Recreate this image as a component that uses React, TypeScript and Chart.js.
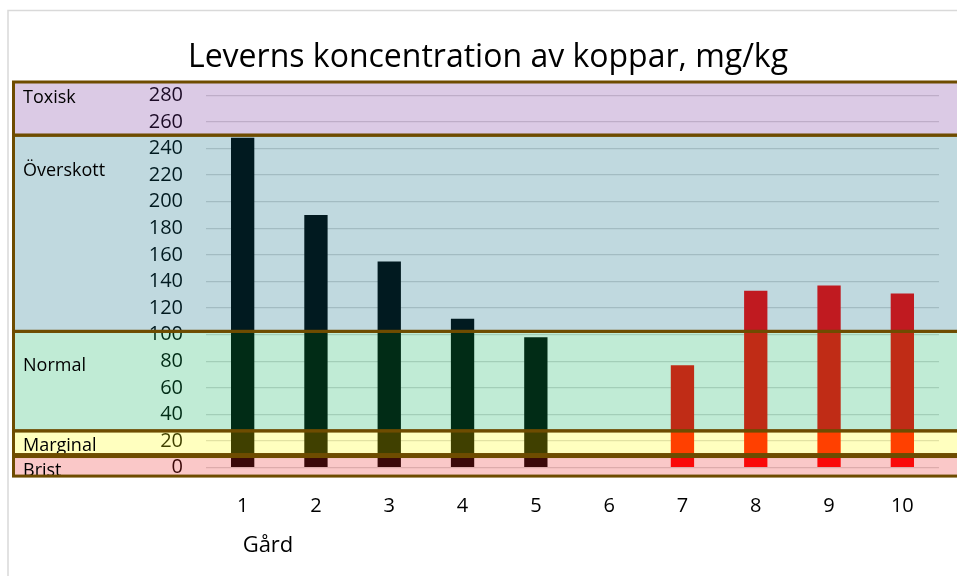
import { useEffect, useRef } from "react";
import { Chart, registerables } from "chart.js";

Chart.register(...registerables);

// ---- data ----
const categories = ["1", "2", "3", "4", "5", "6", "7", "8", "9", "10"];
const seriesDark = [248, 190, 155, 112, 98, null, null, null, null, null];
const seriesRed = [null, null, null, null, null, null, 77, 133, 137, 131];
const yMin = 0;
const yMax = 280;
const yStep = 20;
const bandNames = ["Toxisk", "Överskott", "Normal", "Marginal", "Brist"];
const bandTop = [290, 250, 102.5, 27.7, 8.4];
const bandBottom = [250, 102.5, 27.7, 9.9, -6.3];
const titleText = "Leverns koncentration av koppar, mg/kg";
const xTitleText = "Gård";

// ---- styles ----
const bandColors = [
  "rgba(111,43,151,0.25)",
  "rgba(4,104,128,0.25)",
  "rgba(4,176,88,0.25)",
  "rgba(255,255,0,0.25)",
  "rgba(235,35,35,0.25)",
];
const bandLabelOffsets = [20.7, 40.7, 40, 19.7, 19];
const FONT = "'Open Sans', 'Noto Sans', sans-serif";

const overlayPlugin = {
  id: "bandOverlay",
  beforeDraw(chart: any) {
    const ctx = chart.ctx;
    ctx.save();
    ctx.fillStyle = "#ffffff";
    ctx.fillRect(0, 0, chart.width, chart.height);
    ctx.strokeStyle = "#d9d9d9";
    ctx.lineWidth = 1.5;
    ctx.strokeRect(8, 10.5, 1200, 1200);
    ctx.restore();
  },
  afterDraw(chart: any) {
    const ctx = chart.ctx;
    const y = chart.scales.y;
    const x = chart.scales.x;
    ctx.save();
    const left = 13;
    const w = chart.width + 20 - left;
    // band fills (translucent, over the bars)
    bandNames.forEach((_, i) => {
      const t = y.getPixelForValue(bandTop[i]);
      const b = y.getPixelForValue(bandBottom[i]);
      ctx.fillStyle = bandColors[i];
      ctx.fillRect(left, t, w, b - t);
    });
    // band labels, clipped to their boxes
    bandNames.forEach((name, i) => {
      const t = y.getPixelForValue(bandTop[i]);
      const b = y.getPixelForValue(bandBottom[i]);
      ctx.save();
      ctx.beginPath();
      ctx.rect(left, t, w, b - t);
      ctx.clip();
      ctx.fillStyle = "#000000";
      ctx.font = "18px " + FONT;
      ctx.textAlign = "left";
      ctx.textBaseline = "alphabetic";
      ctx.fillText(name, 23, t + bandLabelOffsets[i]);
      ctx.restore();
    });
    // borders
    ctx.strokeStyle = "#6e4c00";
    ctx.lineWidth = 3;
    bandNames.forEach((_, i) => {
      const t = y.getPixelForValue(bandTop[i]);
      const b = y.getPixelForValue(bandBottom[i]);
      ctx.strokeRect(left + 0.5, t, w, b - t);
    });
    // title
    ctx.fillStyle = "#000000";
    ctx.font = "32px " + FONT;
    ctx.textAlign = "center";
    ctx.textBaseline = "alphabetic";
    ctx.fillText(titleText, 488, 67);
    // x-axis title
    ctx.font = "22px " + FONT;
    ctx.textAlign = "left";
    ctx.fillText(xTitleText, x.getPixelForValue(0), 551.5);
    ctx.restore();
  },
};

export default function App() {
  const ref = useRef<HTMLCanvasElement | null>(null);
  useEffect(() => {
    if (!ref.current) return;
    const chart = new Chart(ref.current, {
      type: "bar",
      data: {
        labels: categories,
        datasets: [
          {
            label: "A",
            data: seriesDark as any,
            backgroundColor: "#000000",
            grouped: false,
            barPercentage: 0.318,
            categoryPercentage: 1,
          } as any,
          {
            label: "B",
            data: seriesRed as any,
            backgroundColor: "#ff0000",
            grouped: false,
            barPercentage: 0.318,
            categoryPercentage: 1,
          } as any,
        ],
      },
      options: {
        animation: false,
        responsive: false,
        devicePixelRatio: 1,
        layout: { padding: { top: 95.3, right: 18, left: 0, bottom: 0 } },
        plugins: {
          legend: { display: false },
          title: { display: false },
          tooltip: { enabled: false },
        },
        scales: {
          x: {
            grid: { display: false },
            border: { display: false },
            ticks: {
              color: "#000000",
              font: { family: FONT, size: 20 },
              padding: 19,
              maxRotation: 0,
              autoSkip: false,
            },
            afterFit: (s: any) => {
              s.height = 108.3;
            },
          },
          y: {
            min: yMin,
            max: yMax,
            grid: { color: "#d9d9d9", lineWidth: 1.3, drawTicks: false },
            border: { display: false },
            ticks: {
              stepSize: yStep,
              autoSkip: false,
              color: "#000000",
              font: { family: FONT, size: 20 },
              padding: 23,
            },
            afterFit: (s: any) => {
              s.width = 206;
            },
          },
        },
      },
      plugins: [overlayPlugin],
    });
    return () => chart.destroy();
  }, []);
  return (
    <canvas
      ref={ref}
      width={957}
      height={576}
      style={{ position: "absolute", left: 0, top: 0, width: 957, height: 576 }}
    />
  );
}
